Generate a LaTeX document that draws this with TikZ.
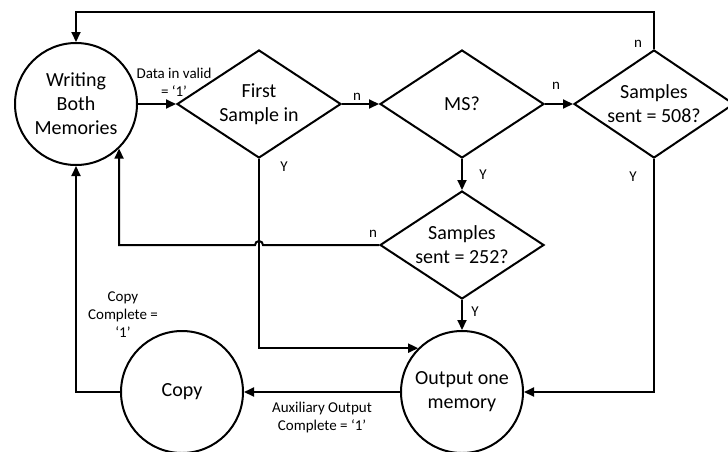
\documentclass[tikz,border=0pt]{standalone}
\usepackage{fontspec}
\setmainfont{Carlito}
\usetikzlibrary{shapes.geometric, arrows.meta, positioning, calc}

\begin{document}
\begin{tikzpicture}[
        x=0.5pt, y=-0.5pt,
        state/.style={circle, draw=black, line width=1pt, minimum size=61pt, inner sep=0pt, align=center, font=\fontsize{10}{12}\selectfont},
        decision/.style={diamond, draw=black, line width=1pt, shape aspect=1.5, minimum width=82pt, minimum height=54pt, inner sep=-2pt, align=center, font=\fontsize{10}{12}\selectfont},
        flow/.style={line width=1pt, -{Triangle[length=5pt, width=4.5pt]}},
        cond/.style={font=\fontsize{7.5}{9}\selectfont, align=center, inner sep=0pt},
    ]
    \useasboundingbox (0,0) rectangle (728,451);

    % States and decisions
    \node[state] (write) at (76,104) {Writing\\Both\\Memories};
    \node[decision] (first) at (259,104) {First\\Sample in};
    \node[decision] (ms) at (462,104) {MS?};
    \node[decision, minimum width=80pt] (s508) at (654,104) {Samples\\sent = 508?};
    \node[decision] (s252) at (462,245) {Samples\\sent = 252?};
    \node[state] (out) at (462,392) {Output one\\memory};
    \node[state] (copy) at (182,392) {Copy};
    \coordinate (topline) at (400,12);

    % Conditions
    \node[cond] (c_data) at (174,82) {Data in valid\\= `1'};
    \node[cond] (c_n1) at (357,97) {n};
    \node[cond] (c_n2) at (556,86) {n};
    \node[cond] (c_n3) at (638,44) {n};
    \node[cond] (c_n4) at (373,234) {n};
    \node[cond] (c_y1) at (284,167) {Y};
    \node[cond] (c_y2) at (483,175) {Y};
    \node[cond] (c_y3) at (633,177) {Y};
    \node[cond] (c_y4) at (475,312) {Y};
    \node[cond] (c_copy) at (123,315) {Copy\\Complete =\\`1'};
    \node[cond] (c_aux) at (322,417) {Auxiliary Output\\Complete = `1'};

    % Connections
    \draw[flow] (write.east) -- (first.west);
    \draw[flow] (first.east) -- (ms.west);
    \draw[flow] (ms.east) -- (s508.west);
    \draw[flow] (s508.north) |- (topline) -| (write.north);
    \draw[flow] (ms.south) -- (s252.north);
    \draw[flow] (s252.south) -- (out.north);
    \draw[flow] (s508.south) |- (out.east);
    \draw[flow] (first.south) |- (out.135);
    \draw[flow] (s252.west) -- ($(first.south |- s252.west)+(4,0)$) arc (0:-180:4) -| (write.-46);
    \draw[flow] (out.west) -- (copy.east);
    \draw[flow] (copy.west) -| (write.south);
\end{tikzpicture}
\end{document}
